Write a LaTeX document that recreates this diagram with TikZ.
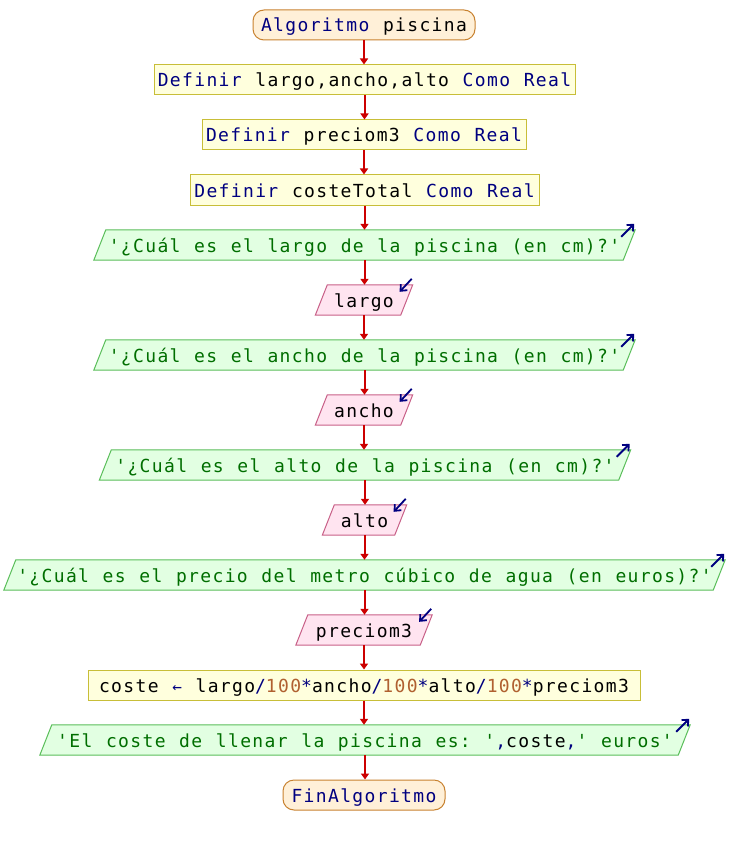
\documentclass[tikz,border=0pt]{standalone}
\usepackage{fontspec}
\setmonofont{DejaVu Sans Mono}[LetterSpace=7.5,WordSpace=1.12]
\usetikzlibrary{arrows.meta,backgrounds}
\definecolor{kwc}{RGB}{0,0,128}
\definecolor{strc}{RGB}{0,110,0}
\definecolor{numc}{RGB}{176,96,48}
\definecolor{arrc}{RGB}{204,0,0}
\definecolor{termfill}{RGB}{255,240,216}
\definecolor{termdraw}{RGB}{200,130,48}
\definecolor{deffill}{RGB}{255,255,221}
\definecolor{defdraw}{RGB}{200,190,56}
\definecolor{outfill}{RGB}{226,255,226}
\definecolor{outdraw}{RGB}{90,190,90}
\definecolor{infill}{RGB}{255,228,240}
\definecolor{indraw}{RGB}{200,96,136}
\newcommand{\kw}[1]{\textcolor{kwc}{#1}}
\newcommand{\st}[1]{\textcolor{strc}{#1}}
\newcommand{\nm}[1]{\textcolor{numc}{#1}}
\begin{document}
\begin{tikzpicture}[x=1pt,y=-1pt,
  every node/.style={font=\ttfamily\fontsize{18}{20}\selectfont, inner sep=0pt, minimum height=30pt, text height=14pt, text depth=0pt, anchor=center},
  term/.style={draw=termdraw, fill=termfill, rounded corners=11pt, line width=1pt},
  defn/.style={draw=defdraw, fill=deffill, line width=1pt},
  outp/.style={},
  inp/.style={},
  outshape/.style={draw=outdraw, fill=outfill, line width=1pt},
  inshape/.style={draw=indraw, fill=infill, line width=1pt},
  conn/.style={draw=arrc, line width=2pt, -{Triangle[width=8pt,length=6pt]}},
  icon/.style={draw=kwc, line width=1.8pt, -{Straight Barb[length=5pt,width=9pt]}}]
\useasboundingbox (0,0) rectangle (728,845);
\node[term, minimum width=222pt] (start) at (364,25) {\kw{Algoritmo} piscina};
\node[defn, minimum width=421pt] (d1) at (364.5,80) {\kw{Definir} largo,ancho,alto \kw{Como Real}};
\node[defn, minimum width=324pt] (d2) at (364,135) {\kw{Definir} preciom3 \kw{Como Real}};
\node[defn, minimum width=349pt] (d3) at (364.5,190) {\kw{Definir} costeTotal \kw{Como Real}};
\node[outp, minimum width=529pt] (o1) at (364.5,245) {\st{'¿Cuál es el largo de la piscina (en cm)?'}};
\node[inp, minimum width=85pt] (i1) at (364,300) {largo};
\node[outp, minimum width=529pt] (o2) at (364.5,355) {\st{'¿Cuál es el ancho de la piscina (en cm)?'}};
\node[inp, minimum width=85pt] (i2) at (364,410) {ancho};
\node[outp, minimum width=519pt] (o3) at (365,465) {\st{'¿Cuál es el alto de la piscina (en cm)?'}};
\node[inp, minimum width=72pt] (i3) at (364.5,520) {alto};
\node[outp, minimum width=709pt] (o4) at (364.5,575) {\st{'¿Cuál es el precio del metro cúbico de agua (en euros)?'}};
\node[inp, minimum width=124pt] (i4) at (364,630) {preciom3};
\node[defn, minimum width=552pt] (a1) at (364,685) {coste \kw{\fontsize{16}{16}\selectfont ←} largo\kw{/}\nm{100}\kw{*}ancho\kw{/}\nm{100}\kw{*}alto\kw{/}\nm{100}\kw{*}preciom3};
\node[outp, minimum width=638pt] (o5) at (365,740) {\st{'El coste de llenar la piscina es: '}\kw{,}coste\kw{,}\st{' euros'}};
\node[term, minimum width=162pt] (end) at (364,795) {\kw{FinAlgoritmo}};
\begin{pgfonlayer}{background}
  \fill[white] (0,0) rectangle (728,845);
  \foreach \n in {o1,o2,o3,o4,o5}
    \path[outshape] ([shift={(-6,0)}]\n.south west) -- ([shift={(6,0)}]\n.north west) -- ([shift={(6,0)}]\n.north east) -- ([shift={(-6,0)}]\n.south east) -- cycle;
  \foreach \n in {i1,i2,i3,i4}
    \path[inshape] ([shift={(-6,0)}]\n.south west) -- ([shift={(6,0)}]\n.north west) -- ([shift={(6,0)}]\n.north east) -- ([shift={(-6,0)}]\n.south east) -- cycle;
\end{pgfonlayer}
\foreach \n in {o1,o2,o3,o4,o5}
  \draw[icon] ([shift={(-8,7)}]\n.north east) -- ([shift={(5,-6)}]\n.north east);
\foreach \n in {i1,i2,i3,i4}
  \draw[icon] ([shift={(5,-6)}]\n.north east) -- ([shift={(-7,7)}]\n.north east);
\foreach \a/\b in {start/d1,d1/d2,d2/d3,d3/o1,o1/i1,i1/o2,o2/i2,i2/o3,o3/i3,i3/o4,o4/i4,i4/a1,a1/o5,o5/end}
  \draw[conn] (\a.south) -- (\a.south |- \b.north);
\end{tikzpicture}
\end{document}
